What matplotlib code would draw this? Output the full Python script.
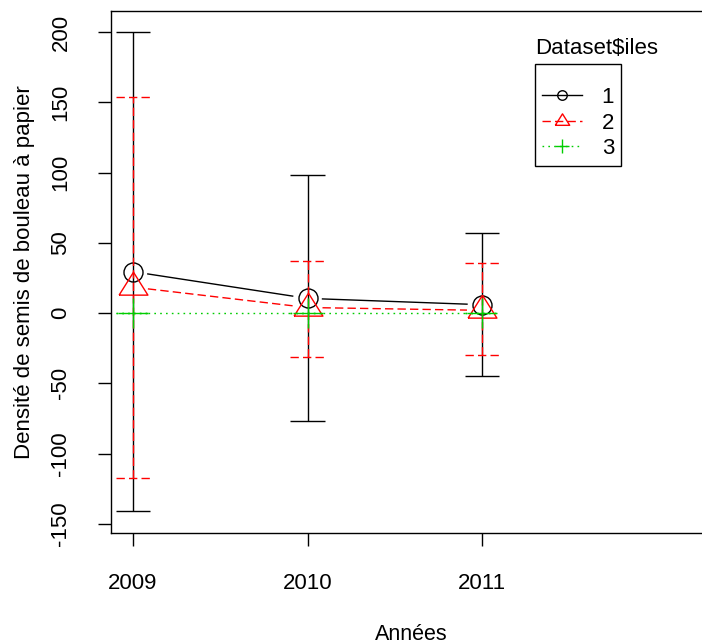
import matplotlib.pyplot as plt
from matplotlib.lines import Line2D
import numpy as np

plt.rcParams['font.family'] = ['Liberation Sans', 'DejaVu Sans']

annees = [2009, 2010, 2011]
iles = ['1', '2', '3']

# moyennes et bornes des barres d'erreur
moy1 = [29.5, 10.5, 6]
haut1 = [200, 98, 57]
bas1 = [-141, -77, -45]

moy2 = [18.5, 4, 2]
haut2 = [154, 37, 36]
bas2 = [-117, -31, -30]

moy3 = [0, 0, 0]
haut3 = [0, 0, 0]
bas3 = [0, 0, 0]

yticks = [-150, -100, -50, 0, 50, 100, 150, 200]

W, H = 702, 644
fig = plt.figure(figsize=(W / 100, H / 100), dpi=100)
ax = fig.add_axes([111 / W, 1 - 533 / H, (712 - 111) / W, (533 - 11) / H])
ax.set_xlim(2009 - 22 / 174.5, 2009 + (712 - 133) / 174.5)
ax.set_ylim(-150 - 9 / 1.406, 200 + 21 / 1.406)
ax.spines['right'].set_visible(False)
for s in ax.spines.values():
    s.set_linewidth(1)

tri = [(-1, -0.53), (1, -0.53), (0, 1.06), (-1, -0.53)]
styles = [
    dict(color='black', ls='-', marker='o', ms=13.7),
    dict(color='#FF0000', ls=(0, (6, 3)), marker=tri, ms=22),
    dict(color='#00CD00', ls=(0, (1.2, 3)), marker='+', ms=21.5),
]
series = [(moy1, haut1, bas1), (moy2, haut2, bas2), (moy3, haut3, bas3)]


def relie(x, y, ecart, **kw):
    # ligne entre les points, interrompue autour des symboles (type="b")
    pts = ax.transData.transform(np.column_stack([x, y]))
    inv = ax.transData.inverted()
    for p0, p1 in zip(pts[:-1], pts[1:]):
        d = p1 - p0
        u = d / np.hypot(*d)
        seg = inv.transform([p0 + u * ecart, p1 - u * ecart])
        ax.plot(seg[:, 0], seg[:, 1], **kw)


cap = 0.1
for (moy, haut, bas), st in zip(series, styles):
    c = st['color']
    ax.vlines(annees, bas, haut, colors=c, linestyles=st['ls'], lw=1)
    x0 = np.array(annees) - cap
    x1 = np.array(annees) + cap
    ax.hlines(haut, x0, x1, colors=c, linestyles=st['ls'], lw=1)
    ax.hlines(bas, x0, x1, colors=c, linestyles=st['ls'], lw=1)
    relie(annees, moy, 15, color=c, ls=st['ls'], lw=1)
    ax.plot(annees, moy, ls='none', marker=st['marker'], ms=st['ms'],
            mfc='none', mec=c, mew=1)

ax.set_xticks(annees)
ax.set_xticklabels([str(a) for a in annees])
ax.set_yticks(yticks)
ax.set_yticklabels([str(v) for v in yticks], rotation=90, va='center')
ax.tick_params(direction='out', length=9.5, width=1, labelsize=16, pad=19)

ax.set_xlabel('Années', fontsize=15.5, labelpad=22)
ax.set_ylabel('Densité de semis de bouleau à papier', fontsize=16, labelpad=11)

handles = []
for st in styles:
    handles.append(Line2D([], [], color=st['color'], ls=st['ls'], lw=1,
                          marker=st['marker'], ms=st['ms'] * 0.5,
                          mfc='none', mec=st['color'], mew=1))
# titre vide dans la boîte pour l'espace du haut, vrai titre posé au-dessus
leg = fig.legend(handles, iles, loc='upper left',
                 bbox_to_anchor=(535 / W, 1 - 64 / H), borderaxespad=0,
                 fontsize=16, frameon=True, fancybox=False, edgecolor='black',
                 framealpha=1, handlelength=1.8, handletextpad=0.9,
                 labelspacing=0.2, borderpad=0.3, title=' ', title_fontsize=9)
leg.get_frame().set_linewidth(1)
fig.text(535 / W, 1 - 49 / H, 'Dataset$iles', fontsize=16, ha='left', va='center')

fig.savefig('out.png', dpi=100)
